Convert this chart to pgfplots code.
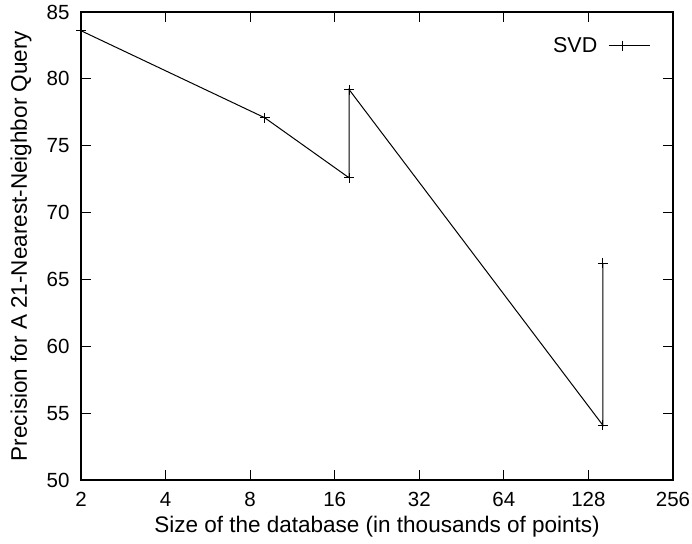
\documentclass[border=0pt]{standalone}
\usepackage{pgfplots}
\pgfplotsset{compat=1.18}
\usepackage{fontspec}
\setmainfont{Liberation Sans}
\begin{document}
\begin{tikzpicture}
\begin{axis}[
  scale only axis, width=592pt, height=468pt,
  xmode=log, log basis x=2, xmin=2, xmax=256, ymin=50, ymax=85,
  xtick={2,4,8,16,32,64,128,256},
  xticklabels={2,4,8,16,32,64,128,256},
  ytick={50,55,60,65,70,75,80,85},
  minor tick num=0, minor xtick={},
  tick pos=both, tick align=inside, major tick length=10pt,
  /pgf/number format/assume math mode=true,
  axis line style={line width=1.2pt},
  every tick/.style={black, line width=1.2pt},
  tick label style={font=\fontsize{20.5}{24}\selectfont},
  xticklabel style={yshift=-9pt},
  yticklabel style={xshift=-8pt},
  xlabel={Size of the database (in thousands of points)},
  ylabel={Precision for A 21-Nearest-Neighbor Query},
  every axis x label/.style={at={(axis description cs:0.5,0)}, yshift=-47pt, anchor=center,
    font=\fontsize{22.5}{27}\selectfont},
  every axis y label/.style={at={(axis description cs:0,0.5)}, xshift=-60pt, anchor=center, rotate=90,
    font=\fontsize{22.5}{27}\selectfont},
  legend style={draw=none, fill=none, inner sep=0pt, font=\fontsize{21.5}{26}\selectfont,
    at={(0.963,0.928)}, anchor=east},
  legend plot pos=right, legend cell align=right,
  legend image code/.code={%
    \path (0pt,0pt);
    \draw[mark repeat=2, mark phase=2] plot coordinates {(9pt,0pt) (23pt,0pt) (50.6pt,0pt)};},
]
\addplot[black, line width=1pt, mark=+, mark size=5pt, mark options={line width=1pt}]
  coordinates {
    (2,83.6) (9,77.1) (18,72.6) (18,79.2) (144,54.1) (144,66.2)
  };
\addlegendentry{SVD}
\end{axis}
% page margins around the plot
\pgfresetboundingbox
\path ([xshift=-81pt,yshift=-63pt]current axis.south west)
  rectangle ([xshift=611pt,yshift=480pt]current axis.south west);
\end{tikzpicture}
\end{document}
